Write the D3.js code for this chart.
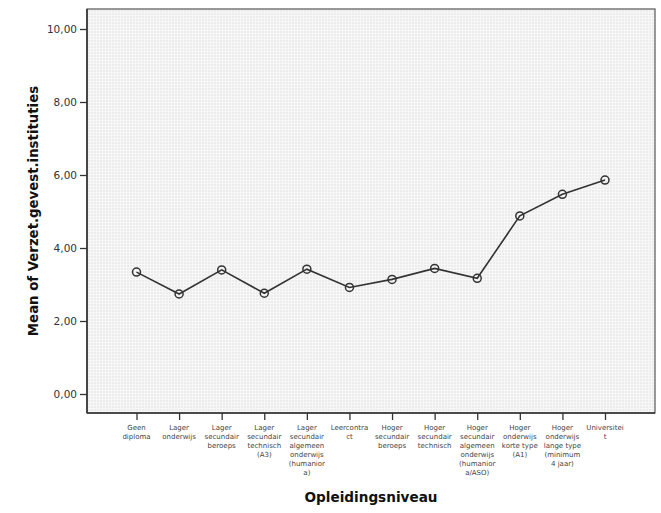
<!DOCTYPE html>
<html><head><meta charset="utf-8">
<script src="https://cdn.jsdelivr.net/npm/d3@7"></script>
<style>
html,body{margin:0;padding:0;background:#fff;}
svg{display:block;}
</style></head>
<body>
<svg id="chart" width="661" height="513"></svg>
<script>
const categories = [
  "Geen\ndiploma",
  "Lager\nonderwijs",
  "Lager\nsecundair\nberoeps",
  "Lager\nsecundair\ntechnisch\n(A3)",
  "Lager\nsecundair\nalgemeen\nonderwijs\n(humanior\na)",
  "Leercontra\nct",
  "Hoger\nsecundair\nberoeps",
  "Hoger\nsecundair\ntechnisch",
  "Hoger\nsecundair\nalgemeen\nonderwijs\n(humanior\na/ASO)",
  "Hoger\nonderwijs\nkorte type\n(A1)",
  "Hoger\nonderwijs\nlange type\n(minimum\n4 jaar)",
  "Universitei\nt"
];
const means = [3.34, 2.74, 3.40, 2.76, 3.42, 2.92, 3.14, 3.44, 3.17, 4.88, 5.47, 5.86];
const yTicks = [0, 2, 4, 6, 8, 10];
const xTitle = "Opleidingsniveau";
const yTitle = "Mean of Verzet.gevest.instituties";

const svg = d3.select("#chart");
const plot = {left: 87, right: 655, top: 9, bottom: 413};

const x = d3.scalePoint().domain(categories).range([136.5, 605]);
const y = d3.scaleLinear().domain([0, 10]).range([394, 29]);

// background pattern
const defs = svg.append("defs");
const pat = defs.append("pattern").attr("id", "grid").attr("patternUnits", "userSpaceOnUse")
  .attr("width", 3).attr("height", 3);
pat.append("rect").attr("width", 3).attr("height", 3).attr("fill", "#ececec");
pat.append("rect").attr("x", 0).attr("y", 0).attr("width", 3).attr("height", 1).attr("fill", "#f7f7f7");
pat.append("rect").attr("x", 0).attr("y", 0).attr("width", 1).attr("height", 3).attr("fill", "#f7f7f7");

svg.append("rect")
  .attr("x", plot.left).attr("y", plot.top)
  .attr("width", plot.right - plot.left).attr("height", plot.bottom - plot.top)
  .attr("fill", "url(#grid)")
  .attr("stroke", "#555").attr("stroke-width", 1.2);

// axes
const yAxis = d3.axisLeft(y).tickValues(yTicks).tickSize(7).tickPadding(3)
  .tickFormat(d => d3.format(".2f")(d).replace(".", ","));
const gy = svg.append("g").attr("transform", `translate(${plot.left},0)`).call(yAxis);
gy.select(".domain").remove();
gy.selectAll(".tick line").attr("stroke", "#333").attr("stroke-width", 1.3);
gy.selectAll(".tick text").attr("fill", "#333").style("font-family", "DejaVu Sans, sans-serif").style("font-size", "10.5px");

const xAxis = d3.axisBottom(x).tickSize(7).tickFormat("");
const gx = svg.append("g").attr("transform", `translate(0,${plot.bottom})`).call(xAxis);
gx.select(".domain").remove();
gx.selectAll(".tick line").attr("stroke", "#333").attr("stroke-width", 1.3);

// axis lines
svg.append("line").attr("x1", plot.left).attr("x2", plot.left).attr("y1", plot.top).attr("y2", plot.bottom)
  .attr("stroke", "#333").attr("stroke-width", 1.6);
svg.append("line").attr("x1", plot.left).attr("x2", plot.right).attr("y1", plot.bottom).attr("y2", plot.bottom)
  .attr("stroke", "#333").attr("stroke-width", 1.6);

// category labels
const labels = svg.append("g").selectAll("text").data(categories).join("text")
  .attr("x", d => x(d)).attr("y", 430)
  .attr("text-anchor", "middle")
  .attr("fill", "#444")
  .style("font-family", "DejaVu Sans, sans-serif").style("font-size", "7px");
labels.each(function(d) {
  const t = d3.select(this);
  d.split("\n").forEach((ln, i) => {
    t.append("tspan").attr("x", x(d)).attr("dy", i === 0 ? 0 : 9).text(ln);
  });
});

// line
const line = d3.line().x((d, i) => x(categories[i])).y(d => y(d));
svg.append("path").datum(means).attr("d", line)
  .attr("fill", "none").attr("stroke", "#333").attr("stroke-width", 1.6);

svg.append("g").selectAll("circle").data(means).join("circle")
  .attr("cx", (d, i) => x(categories[i])).attr("cy", d => y(d)).attr("r", 4)
  .attr("fill", "none").attr("stroke", "#333").attr("stroke-width", 1.5);

// titles
svg.append("text").attr("x", 371).attr("y", 502).attr("text-anchor", "middle")
  .style("font-family", "DejaVu Sans, sans-serif").style("font-weight", "bold").style("font-size", "13.6px")
  .attr("fill", "#111").text(xTitle);
svg.append("text").attr("transform", "translate(37.5,211) rotate(-90)").attr("text-anchor", "middle")
  .style("font-family", "DejaVu Sans, sans-serif").style("font-weight", "bold").style("font-size", "13.3px")
  .attr("fill", "#111").text(yTitle);
</script>
</body></html>
